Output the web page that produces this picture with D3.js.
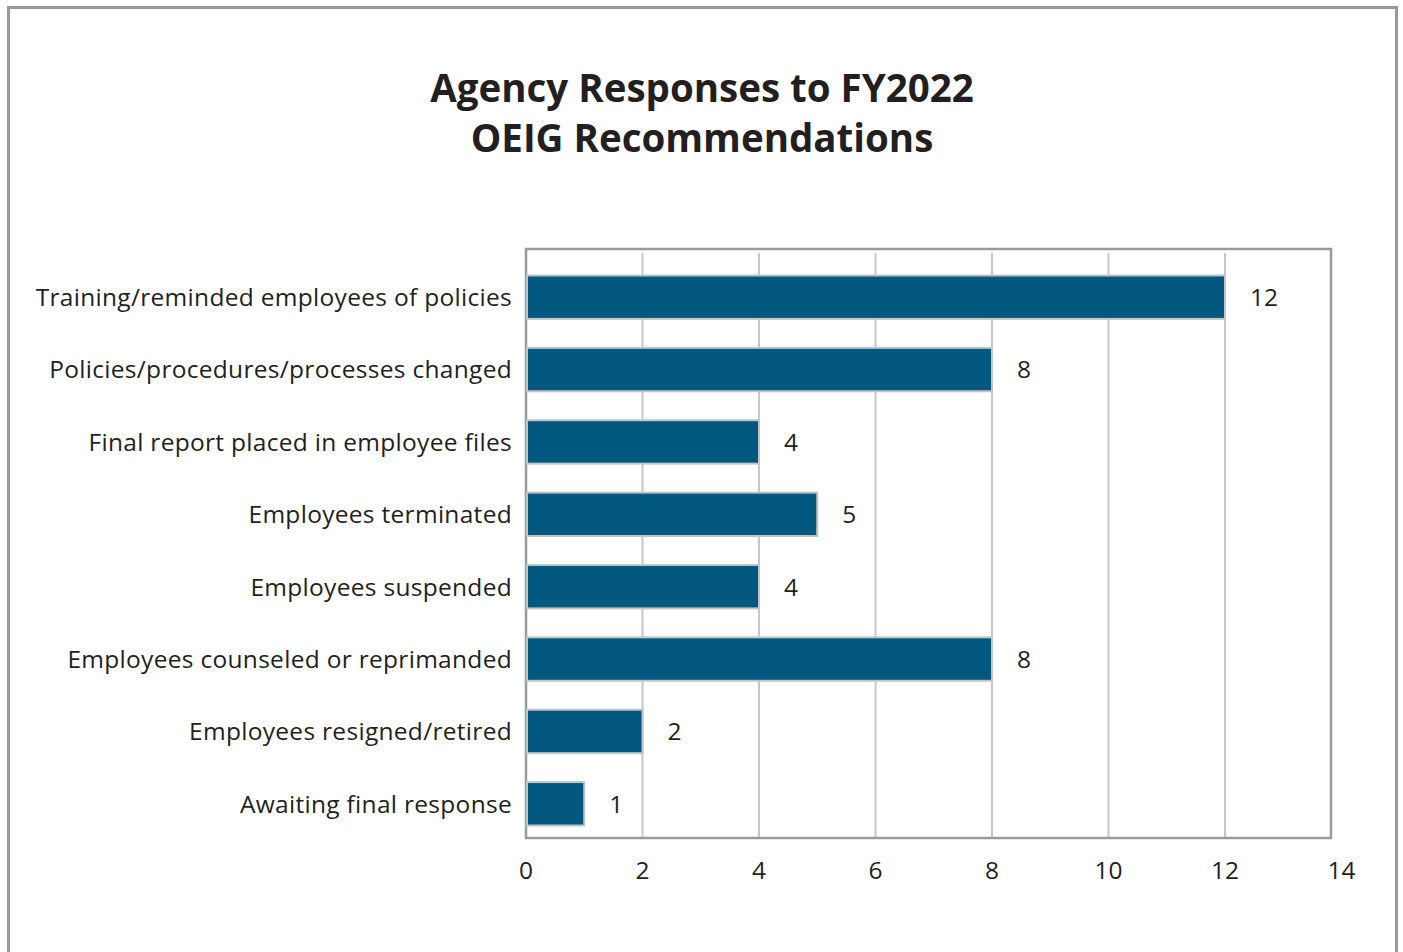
<!DOCTYPE html>
<html>
<head>
<meta charset="utf-8">
<script src="https://cdn.jsdelivr.net/npm/d3@7"></script>
<style>
  html, body { margin: 0; padding: 0; background: #fff; }
  svg { display: block; }
  text { font-family: "Open Sans", "Noto Sans", sans-serif; fill: #231f20; }
</style>
</head>
<body>
<svg id="chart" width="1403" height="952"></svg>
<script>
const titleLines = ["Agency Responses to FY2022", "OEIG Recommendations"];
const categories = [
  "Training/reminded employees of policies",
  "Policies/procedures/processes changed",
  "Final report placed in employee files",
  "Employees terminated",
  "Employees suspended",
  "Employees counseled or reprimanded",
  "Employees resigned/retired",
  "Awaiting final response"
];
const values = [12, 8, 4, 5, 4, 8, 2, 1];
const xTicks = [0, 2, 4, 6, 8, 10, 12, 14];

const svg = d3.select("#chart");

// outer frame
svg.append("rect")
  .attr("x", 8.5).attr("y", 7.5)
  .attr("width", 1388).attr("height", 960)
  .attr("fill", "none").attr("stroke", "#999a9c").attr("stroke-width", 3);

// title
svg.append("text")
  .attr("x", 702).attr("y", 102)
  .attr("text-anchor", "middle")
  .style("font-size", "38.5px").style("font-weight", 700)
  .selectAll("tspan").data(titleLines).join("tspan")
  .attr("x", 702).attr("dy", (d, i) => i === 0 ? 0 : 50)
  .text(d => d);

const plot = { left: 526, right: 1331, top: 249, bottom: 838 };

const x = d3.scaleLinear().domain([0, 14]).range([526, 1341.5]);
const y = d3.scaleBand().domain(categories).range([261, 840])
  .paddingInner(0.4).paddingOuter(0.2);

// gridlines
svg.append("g").selectAll("line")
  .data(xTicks.filter(t => t > 0 && t < 14)).join("line")
  .attr("x1", d => x(d)).attr("x2", d => x(d))
  .attr("y1", plot.top + 4).attr("y2", plot.bottom)
  .attr("stroke", "#c6c7c9").attr("stroke-width", 2);

// plot frame
svg.append("rect")
  .attr("x", plot.left).attr("y", plot.top)
  .attr("width", plot.right - plot.left).attr("height", plot.bottom - plot.top)
  .attr("fill", "none").attr("stroke", "#999a9c").attr("stroke-width", 2.5);

// bars
svg.append("g").selectAll("rect")
  .data(values).join("rect")
  .attr("x", x(0) + 1)
  .attr("y", (d, i) => y(categories[i]))
  .attr("width", d => x(d) - x(0) - 1)
  .attr("height", y.bandwidth())
  .attr("fill", "#02587f")
  .attr("stroke", "#c3c4c6").attr("stroke-width", 2);

// value labels
svg.append("g").selectAll("text")
  .data(values).join("text")
  .attr("x", d => x(d) + 25)
  .attr("y", (d, i) => y(categories[i]) + y.bandwidth() / 2)
  .attr("dy", "0.36em")
  .style("font-size", "24.5px")
  .text(d => d);

// category labels
svg.append("g").selectAll("text")
  .data(categories).join("text")
  .attr("x", 512)
  .attr("y", d => y(d) + y.bandwidth() / 2)
  .attr("dy", "0.36em")
  .attr("text-anchor", "end")
  .style("font-size", "24.5px")
  .style("letter-spacing", "0.3px")
  .text(d => d);

// x tick labels
svg.append("g").selectAll("text")
  .data(xTicks).join("text")
  .attr("x", d => x(d))
  .attr("y", 879)
  .attr("text-anchor", "middle")
  .style("font-size", "24.5px")
  .text(d => d);
</script>
</body>
</html>
